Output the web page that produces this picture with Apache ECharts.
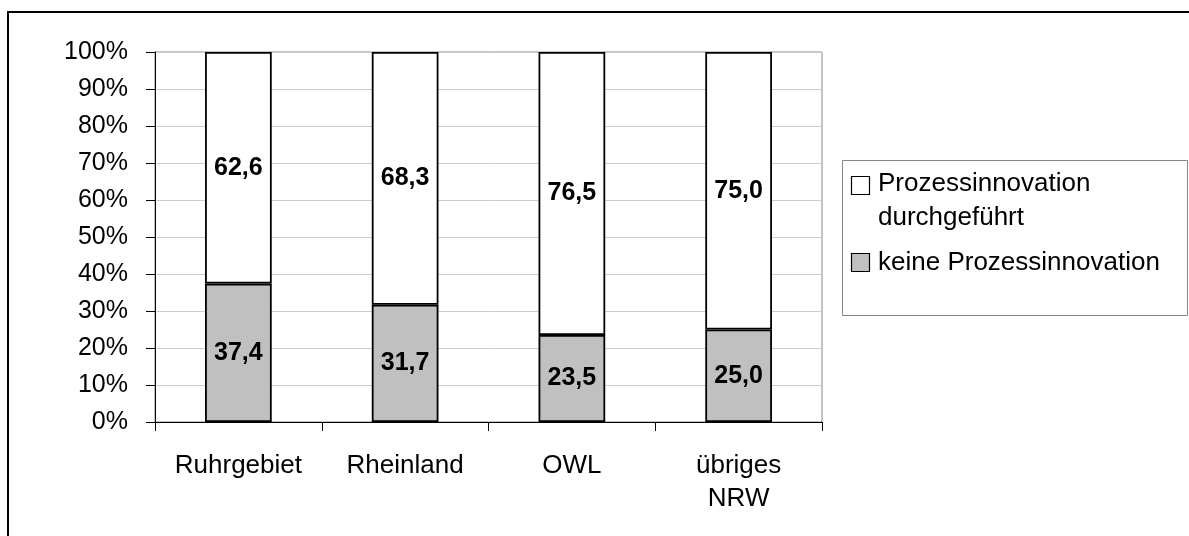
<!DOCTYPE html>
<html>
<head>
<meta charset="utf-8">
<script src="https://cdn.jsdelivr.net/npm/echarts@6/dist/echarts.min.js"></script>
<style>
html,body{margin:0;padding:0;background:#fff;}
#c{width:1189px;height:536px;}
</style>
</head>
<body>
<div id="c"></div>
<script>
const categories = ['Ruhrgebiet', 'Rheinland', 'OWL', 'übriges\nNRW'];
const seriesNames = ['keine Prozessinnovation', 'Prozessinnovation durchgeführt'];
const keineValues = [37.4, 31.7, 23.5, 25.0];
const durchgefuehrtValues = [62.6, 68.3, 76.5, 75.0];
const yTicks = [0, 10, 20, 30, 40, 50, 60, 70, 80, 90, 100];

const FONT = "'Liberation Sans', Arial, Helvetica, sans-serif";
const colors = ['#c0c0c0', '#ffffff'];

const chart = echarts.init(document.getElementById('c'), null, {renderer: 'canvas'});

function fmt(p) { return p.value.toFixed(1).replace('.', ','); }

const labelStyle = {
  show: true, position: 'inside', formatter: fmt,
  fontFamily: FONT, fontWeight: 'bold', fontSize: 25, color: '#000'
};

const option = {
  animation: false,
  backgroundColor: '#fff',
  grid: {left: 155, right: 367, top: 52, bottom: 114, show: true, borderColor: '#888', borderWidth: 1, backgroundColor: 'transparent'},
  xAxis: {
    type: 'category', data: categories,
    axisLine: {show: true, lineStyle: {color: '#000', width: 1}},
    axisTick: {show: true, length: 9, lineStyle: {color: '#000'}},
    axisLabel: {fontFamily: FONT, fontSize: 26, color: '#000', margin: 27, lineHeight: 33}
  },
  yAxis: {
    type: 'value', min: yTicks[0], max: yTicks[yTicks.length - 1], interval: 10,
    axisLine: {show: true, lineStyle: {color: '#000', width: 1}},
    axisTick: {show: true, length: 9, lineStyle: {color: '#000'}},
    axisLabel: {fontFamily: FONT, fontSize: 25, color: '#000', margin: 27, formatter: '{value}%'},
    splitLine: {show: true, lineStyle: {color: '#cccccc', width: 1}}
  },
  series: [
    {name: seriesNames[0], type: 'bar', stack: 's', data: keineValues, barWidth: '40%',
     itemStyle: {color: colors[0], borderColor: '#000', borderWidth: 1.8}, label: labelStyle},
    {name: seriesNames[1], type: 'bar', stack: 's', data: durchgefuehrtValues, barWidth: '40%',
     itemStyle: {color: colors[1], borderColor: '#000', borderWidth: 1.8}, label: labelStyle}
  ],
  graphic: [
    {type: 'rect', shape: {x: 8, y: 12, width: 1200, height: 600}, style: {fill: 'none', stroke: '#000', lineWidth: 2}, silent: true},
    {type: 'rect', shape: {x: 842.5, y: 160.5, width: 345, height: 155}, style: {fill: '#fff', stroke: '#888', lineWidth: 1}, silent: true},
    {type: 'rect', shape: {x: 851.5, y: 176.5, width: 18, height: 18}, style: {fill: colors[1], stroke: '#000', lineWidth: 1.2}},
    {type: 'text', x: 878, y: 167, style: {text: 'Prozessinnovation\ndurchgeführt', font: '26px ' + FONT, fill: '#000', lineHeight: 34, verticalAlign: 'top', textVerticalAlign: 'top'}},
    {type: 'rect', shape: {x: 851.5, y: 253.5, width: 18, height: 18}, style: {fill: colors[0], stroke: '#000', lineWidth: 1.2}},
    {type: 'text', x: 878, y: 246, style: {text: seriesNames[0], font: '26px ' + FONT, fill: '#000', lineHeight: 34, verticalAlign: 'top', textVerticalAlign: 'top'}}
  ]
};
chart.setOption(option);
</script>
</body>
</html>
